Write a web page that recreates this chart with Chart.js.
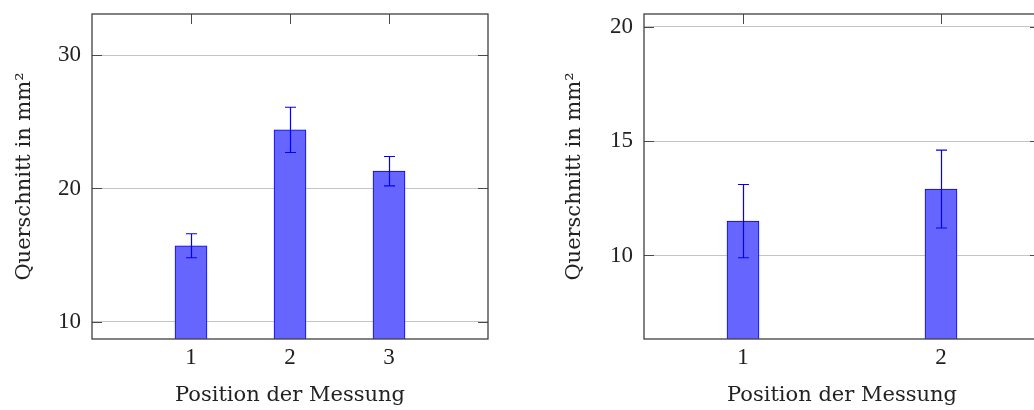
<!DOCTYPE html>
<html>
<head>
<meta charset="utf-8">
<script src="https://cdn.jsdelivr.net/npm/chart.js@4/dist/chart.umd.min.js"></script>
<style>
  html, body { margin: 0; padding: 0; background: #fff; overflow: hidden; width: 1034px; height: 410px; }
  #wrapL { position: absolute; left: 0; top: 0; width: 500px; height: 410px; }
  #wrapR { position: absolute; left: 540px; top: 0; width: 512px; height: 410px; }
</style>
</head>
<body>
<div id="wrapL"><canvas id="left"></canvas></div>
<div id="wrapR"><canvas id="right"></canvas></div>
<script>
// left plot
var leftPos = [1, 2, 3];
var leftMeans = [15.7, 24.4, 21.3];
var leftErr = [0.9, 1.7, 1.1];
var leftX = [0, 4];
var leftY = [8.7, 33.1];
var leftStep = 10;

// right plot (its right edge falls just past the page)
var rightPos = [1, 2];
var rightMeans = [11.5, 12.9];
var rightErr = [1.6, 1.7];
var rightX = [0.5, 2.5];
var rightY = [6.35, 20.55];
var rightStep = 5;

var yTitle = 'Querschnitt in mm²';
var xTitle = 'Position der Messung';

var FONT = "'DejaVu Serif', serif";
var TICKFONT = "'Liberation Serif', serif";
var TICK = 10;

var pgfPlugin = {
  id: 'pgf',
  beforeDatasetsDraw: function(chart, args, opts) {
    var ctx = chart.ctx, a = chart.chartArea, x = chart.scales.x, y = chart.scales.y;
    ctx.save();
    ctx.strokeStyle = '#4a4a4a';
    ctx.lineWidth = 1;
    ctx.beginPath();
    y.ticks.forEach(function(t) {
      var py = Math.round(y.getPixelForValue(t.value)) + 0.5;
      ctx.moveTo(a.left, py); ctx.lineTo(a.left + TICK, py);
      ctx.moveTo(a.right, py); ctx.lineTo(a.right - TICK, py);
    });
    x.ticks.forEach(function(t) {
      var px = Math.round(x.getPixelForValue(t.value)) + 0.5;
      ctx.moveTo(px, a.top); ctx.lineTo(px, a.top + TICK);
      ctx.moveTo(px, a.bottom); ctx.lineTo(px, a.bottom - TICK);
    });
    ctx.stroke();
    ctx.restore();
  },
  afterDatasetsDraw: function(chart, args, opts) {
    var ctx = chart.ctx, a = chart.chartArea, y = chart.scales.y;
    var meta = chart.getDatasetMeta(0);
    var data = chart.data.datasets[0].data;
    ctx.save();
    ctx.strokeStyle = '#0000ff';
    ctx.lineWidth = 1.2;
    ctx.beginPath();
    meta.data.forEach(function(el, i) {
      var m = data[i].y, e = opts.errors[i];
      var px = Math.round(el.x) + 0.5;
      var top = y.getPixelForValue(m + e), bot = y.getPixelForValue(m - e);
      ctx.moveTo(px, top); ctx.lineTo(px, bot);
      ctx.moveTo(px - 5.5, top); ctx.lineTo(px + 5.5, top);
      ctx.moveTo(px - 5.5, bot); ctx.lineTo(px + 5.5, bot);
    });
    ctx.stroke();
    ctx.strokeStyle = '#404040';
    ctx.lineWidth = 1.3;
    ctx.strokeRect(a.left, a.top, a.right - a.left, a.bottom - a.top);
    ctx.restore();
  }
};

function makeChart(id, pos, means, errs, xr, yr, step, yw, titlePad) {
  var pts = [];
  for (var i = 0; i < pos.length; i++) pts.push({ x: pos[i], y: means[i] });
  return new Chart(document.getElementById(id), {
    type: 'bar',
    data: {
      datasets: [{
        data: pts,
        backgroundColor: '#6666ff',
        borderColor: '#0000ff',
        borderWidth: 1,
        barThickness: 32
      }]
    },
    options: {
      responsive: true,
      maintainAspectRatio: false,
      animation: false,
      layout: { padding: { top: 14, right: 12, left: 0, bottom: 0 } },
      plugins: {
        legend: { display: false },
        tooltip: { enabled: false },
        pgf: { errors: errs }
      },
      scales: {
        x: {
          type: 'linear',
          offset: false,
          min: xr[0], max: xr[1],
          grid: { display: false },
          border: { display: false },
          ticks: {
            color: '#222',
            padding: -3,
            font: { family: TICKFONT, size: 23 }
          },
          afterBuildTicks: function(s) { s.ticks = pos.map(function(v) { return { value: v }; }); },
          title: { display: true, text: xTitle, color: '#222', padding: { top: 0, bottom: 2 }, font: { family: FONT, size: 21 } },
          afterFit: function(s) { s.height = 71; s.paddingLeft = 0; s.paddingRight = 0; }
        },
        y: {
          min: yr[0], max: yr[1],
          grid: { color: '#c4c4c4', drawTicks: false, lineWidth: 1 },
          border: { display: false },
          ticks: {
            stepSize: step,
            includeBounds: false,
            color: '#222',
            padding: 11,
            font: { family: TICKFONT, size: 23 }
          },
          title: { display: true, text: yTitle, color: '#222', padding: { top: titlePad, bottom: 0 }, font: { family: FONT, size: 21 } },
          afterFit: function(s) { s.width = yw; s.paddingTop = 0; s.paddingBottom = 0; }
        }
      }
    },
    plugins: [pgfPlugin]
  });
}

makeChart('left', leftPos, leftMeans, leftErr, leftX, leftY, leftStep, 92, 12);
makeChart('right', rightPos, rightMeans, rightErr, rightX, rightY, rightStep, 104, 22);
</script>
</body>
</html>
